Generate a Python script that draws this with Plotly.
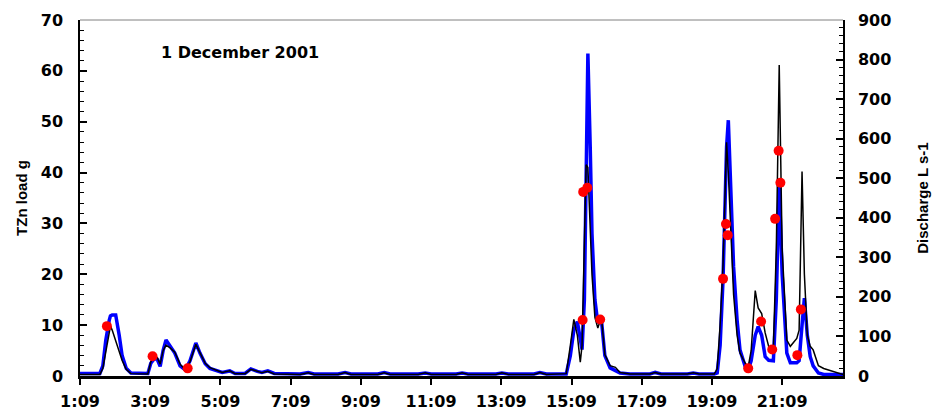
import plotly.graph_objects as go

# Time of each reading (clock time, 1 December 2001)
times = [
    "1:09", "1:43", "1:48", "1:53", "1:59", "2:01", "2:04", "2:10", "2:16", "2:21",
    "2:28", "2:36", "3:05", "3:10", "3:16", "3:21", "3:26", "3:31", "3:36", "3:43",
    "3:51", "4:00", "4:09", "4:17", "4:27", "4:34", "4:43", "4:51", "5:00", "5:12",
    "5:25", "5:34", "5:51", "6:01", "6:12", "6:20", "6:30", "6:41", "7:25", "7:39",
    "7:49", "8:30", "8:42", "8:52", "9:38", "9:49", "9:59", "10:47", "10:59", "11:09",
    "11:52", "12:02", "12:12", "13:00", "13:10", "13:21", "14:05", "14:15", "14:26", "15:00",
    "15:07", "15:13", "15:19", "15:24", "15:27", "15:31", "15:34", "15:37", "15:41", "15:44",
    "15:49", "15:54", "16:00", "16:06", "16:15", "16:24", "16:32", "16:49", "17:23", "17:32",
    "17:42", "18:27", "18:37", "18:47", "19:13", "19:18", "19:23", "19:28", "19:32", "19:34",
    "19:37", "19:42", "19:46", "19:52", "19:57", "20:06", "20:11", "20:16", "20:23", "20:28",
    "20:34", "20:40", "20:46", "20:54", "20:59", "21:04", "21:09", "21:17", "21:23", "21:34",
    "21:38", "21:43", "21:47", "21:52", "21:57", "22:02", "22:11", "22:20", "22:31", "22:43",
    "22:53",
]

# Modelled total zinc load (g)
tzn_load = [
    0.5, 0.5, 2, 7, 11, 11.8, 12, 12, 8, 4,
    1.5, 0.6, 0.5, 2.5, 3.4, 3.3, 1.9, 5, 7.1, 6,
    4.5, 2, 1.2, 3, 6.5, 4.5, 2.4, 1.5, 1.1, 0.7,
    1.0, 0.5, 0.5, 1.4, 0.9, 0.7, 1.0, 0.5, 0.4, 0.7,
    0.4, 0.4, 0.7, 0.4, 0.4, 0.7, 0.4, 0.4, 0.6, 0.4,
    0.4, 0.6, 0.4, 0.4, 0.6, 0.4, 0.4, 0.7, 0.4, 0.4,
    4, 9, 10.7, 7, 5.2, 15, 40, 63.4, 45, 28,
    15, 10.4, 11.2, 4, 1.6, 1.0, 0.6, 0.4, 0.4, 0.7,
    0.4, 0.4, 0.6, 0.4, 0.4, 0.6, 6, 19, 35, 45,
    50.3, 33, 21.5, 11, 5.1, 1.8, 1.2, 3, 8, 9.7,
    8, 3.8, 3.1, 3.0, 15, 37.9, 20, 4.5, 2.6, 2.6,
    3, 10, 15.3, 8, 3.8, 2, 0.6, 0.3, 0.3, 0.3,
    0.3,
]

# Discharge (L s-1)
discharge = [
    4, 4, 19, 64, 109, 126, 116, 90, 64, 39,
    17, 6, 5, 36, 51, 46, 30, 64, 78, 71,
    60, 30, 15, 36, 80, 58, 32, 21, 15, 9,
    13, 6, 6, 17, 12, 8, 12, 5, 4, 8,
    4, 4, 9, 4, 4, 8, 4, 4, 8, 4,
    4, 8, 4, 4, 8, 4, 4, 9, 4, 6,
    77, 143, 103, 35, 77, 386, 534, 527, 386, 257,
    148, 121, 150, 54, 26, 22, 9, 5, 5, 9,
    5, 5, 8, 5, 5, 19, 129, 283, 489, 591,
    514, 321, 206, 103, 58, 32, 23, 64, 216, 172,
    158, 109, 75, 71, 321, 786, 321, 91, 75, 95,
    116, 517, 257, 103, 75, 66, 26, 19, 14, 10,
    4,
]

# Measured total zinc load (g)
obs_times = [
    "1:55", "3:13", "4:13", "15:28", "15:29", "15:36", "15:58", "19:28", "19:33",
    "19:36", "20:11", "20:33", "20:52", "20:57", "21:03", "21:06", "21:35", "21:41",
]
obs_load = [
    9.8, 3.9, 1.5, 11.0, 36.2, 37.0, 11.1, 19.1, 29.9,
    27.7, 1.5, 10.7, 5.2, 30.9, 44.3, 38.0, 4.1, 13.1,
]

tick_labels = ["1:09", "3:09", "5:09", "7:09", "9:09", "11:09",
               "13:09", "15:09", "17:09", "19:09", "21:09"]


def to_minutes(t):
    h, m = t.split(":")
    return int(h) * 60 + int(m)


x = [to_minutes(t) for t in times]
x_obs = [to_minutes(t) for t in obs_times]
tick_vals = [to_minutes(t) for t in tick_labels]
x_end = to_minutes("22:53")

BOLD = "DejaVu Sans, sans-serif"
PLAIN = "Liberation Sans, Arial, sans-serif"
tick_font = dict(family=BOLD, size=16, color="black", weight="bold")
title_font = dict(family=PLAIN, size=15, color="black", weight="bold")

fig = go.Figure()

fig.add_trace(go.Scatter(
    x=x, y=tzn_load, mode="lines", yaxis="y",
    line=dict(color="#0000FF", width=3.5), name="TZn load",
))
fig.add_trace(go.Scatter(
    x=x, y=discharge, mode="lines", yaxis="y2",
    line=dict(color="black", width=1.5), name="Discharge",
))
fig.add_trace(go.Scatter(
    x=x_obs, y=obs_load, mode="markers", yaxis="y3",
    marker=dict(color="#FF0000", size=10, line=dict(width=0)), name="Measured",
))

fig.update_layout(
    width=936, height=414,
    margin=dict(l=80, r=93, t=20, b=38, autoexpand=False),
    paper_bgcolor="white", plot_bgcolor="white",
    showlegend=False,
    xaxis=dict(
        range=[to_minutes("1:09"), x_end], automargin=False,
        tickvals=tick_vals, ticktext=tick_labels,
        ticks="outside", ticklen=6, tickwidth=2, tickcolor="black",
        ticklabelstandoff=3,
        showline=True, linewidth=2.5, linecolor="black",
        showgrid=False, zeroline=False, tickfont=tick_font,
    ),
    yaxis=dict(
        range=[0, 70], dtick=10, tick0=0, automargin=False,
        ticks="inside", ticklen=7, tickwidth=1.5, tickcolor="black",
        minor=dict(dtick=2, ticks="inside", ticklen=4, tickwidth=1, tickcolor="black"),
        ticklabelstandoff=12,
        showline=True, linewidth=1.5, linecolor="black",
        showgrid=False, zeroline=False, tickfont=tick_font,
        title=dict(text="TZn load g", font=title_font, standoff=10),
    ),
    yaxis2=dict(
        range=[0, 900], dtick=100, tick0=0, overlaying="y", side="right",
        automargin=False,
        ticks="inside", ticklen=7, tickwidth=1.5, tickcolor="black",
        minor=dict(dtick=20, ticks="inside", ticklen=4, tickwidth=1, tickcolor="black"),
        ticklabelstandoff=10,
        showline=True, linewidth=1.5, linecolor="black",
        showgrid=False, zeroline=False, tickfont=tick_font,
        title=dict(text="Discharge L s-1", font=title_font, standoff=27),
    ),
    yaxis3=dict(range=[0, 70], overlaying="y", visible=False),
    shapes=[dict(type="line", xref="paper", yref="paper", x0=0, x1=1, y0=1, y1=1,
                 line=dict(color="#808080", width=1))],
    annotations=[dict(
        text="1 December 2001", xref="paper", yref="paper",
        x=0.21, y=0.91, showarrow=False, xanchor="center", yanchor="middle",
        font=dict(family=BOLD, size=16, color="black", weight="bold"),
    )],
)

fig.write_html("out.html")
